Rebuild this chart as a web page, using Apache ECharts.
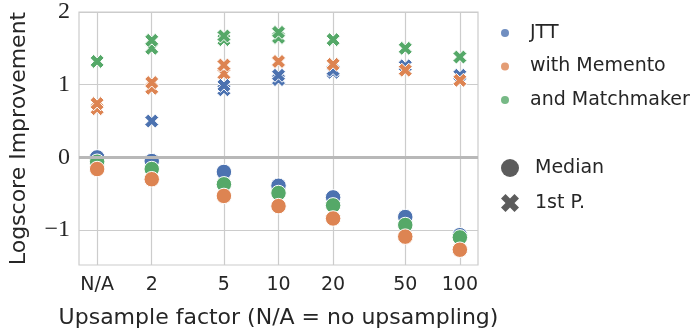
<!DOCTYPE html>
<html><head><meta charset="utf-8">
<script src="https://cdn.jsdelivr.net/npm/echarts@6/dist/echarts.min.js"></script>
<style>html,body{margin:0;padding:0;background:#fff}#c{width:698px;height:334px}</style>
</head><body><div id="c"></div>
<script>
// x positions (upsample factor; 1 = no upsampling, shown as N/A)
const factors = [1, 2, 5, 10, 20, 50, 100];
const factorLabels = ['N/A', '2', '5', '10', '20', '50', '100'];
const yTicks = [-1, 0, 1, 2];

// Median logscore improvement
const jttMedian      = [0.00, -0.05, -0.20, -0.39, -0.55, -0.82, -1.07];
const matchMedian    = [-0.06, -0.16, -0.37, -0.49, -0.66, -0.93, -1.10];
const mementoMedian  = [-0.16, -0.30, -0.53, -0.67, -0.84, -1.09, -1.27];

// 1st percentile logscore improvement
const jttP1      = [0.74, 0.50, 0.99, 1.13, 1.20, 1.26, 1.13];
const matchP1    = [1.32, 1.61, 1.67, 1.72, 1.62, 1.50, 1.38];
const mementoP1  = [0.74, 1.03, 1.27, 1.32, 1.28, 1.20, 1.06];

// partially hidden (overlapped) 1st percentile markers
const jttP1Hidden     = [null, null, 0.93, 1.07, 1.17, null, null];
const matchP1Hidden   = [null, 1.50, 1.62, 1.65, null, null, null];
const mementoP1Hidden = [0.67, 0.95, 1.15, null, null, null, null];

const BLUE = '#4C72B0', ORANGE = '#DD8452', GREEN = '#55A868', DARK = '#333333', TXT = '#262626';
const XPATH = 'path://M2.5,0L5,2.5L7.5,0L10,2.5L7.5,5L10,7.5L7.5,10L5,7.5L2.5,10L0,7.5L2.5,5L0,2.5Z';
const SANS = 'DejaVu Sans';

function pts(vals) {
  const out = [];
  vals.forEach((v, i) => { if (v !== null) out.push([factors[i], v]); });
  return out;
}
function labelFor(v) {
  for (let i = 0; i < factors.length; i++) {
    if (Math.abs(Math.log10(v) - Math.log10(factors[i])) < 0.02) return factorLabels[i];
  }
  return '';
}
function sc(name, vals, color, symbol, size) {
  return {
    name: name, type: 'scatter', data: pts(vals), symbol: symbol, symbolSize: size,
    itemStyle: { color: color, borderColor: '#ffffff', borderWidth: 1, opacity: 1 },
    emphasis: { disabled: true }, silent: true
  };
}
const chart = echarts.init(document.getElementById('c'), null, { renderer: 'canvas' });
const option = {
  animation: false,
  backgroundColor: '#ffffff',
  grid: { left: 76, right: 220, top: 12, bottom: 67, show: true, borderColor: '#cccccc', borderWidth: 1.2 },
  xAxis: {
    type: 'log', logBase: 10, min: 0.7943, max: 125.89,
    axisLine: { show: false },
    axisTick: { show: false, customValues: factors },
    minorTick: { show: false }, minorSplitLine: { show: false },
    axisLabel: { customValues: factors, formatter: labelFor, fontFamily: SANS, fontSize: 19, color: TXT, margin: 11 },
    splitLine: { show: true, lineStyle: { color: '#cccccc', width: 1.2 } },
    name: 'Upsample factor (N/A = no upsampling)', nameLocation: 'middle', nameGap: 42,
    nameTextStyle: { fontFamily: SANS, fontSize: 22, color: TXT }
  },
  yAxis: {
    type: 'value', min: -1.48, max: 2,
    axisLine: { show: false },
    axisTick: { show: false, customValues: yTicks },
    axisLabel: { customValues: yTicks, formatter: v => (v < 0 ? '\u2212' + Math.abs(v) : String(v)),
      fontFamily: 'Liberation Serif', fontSize: 24, color: TXT, margin: 9 },
    splitLine: { show: true, lineStyle: { color: '#cccccc', width: 1.2 } },
    name: 'Logscore Improvement', nameLocation: 'middle', nameGap: 49,
    nameTextStyle: { fontFamily: SANS, fontSize: 22, color: TXT }
  },
  legend: [
    { left: 496, top: 18, orient: 'vertical', itemWidth: 40, itemHeight: 8, itemGap: 13.5,
      selectedMode: false,
      textStyle: { fontFamily: SANS, fontSize: 19, color: TXT, lineHeight: 20 },
      data: [{ name: 'JTT', icon: 'circle' }, { name: 'with Memento', icon: 'circle' }, { name: 'and Matchmaker', icon: 'circle' }] },
    { left: 496, top: 153, orient: 'vertical', itemWidth: 40, itemHeight: 18, itemGap: 15,
      selectedMode: false,
      textStyle: { fontFamily: SANS, fontSize: 19, color: TXT, lineHeight: 20 },
      data: [{ name: 'Median', icon: 'circle' }, { name: '1st P.', icon: XPATH }] }
  ],
  series: [
    { name: 'zero', type: 'scatter', data: [], silent: true,
      markLine: { silent: true, symbol: 'none', label: { show: false },
        lineStyle: { color: '#b8b8b8', width: 3, type: 'solid' }, data: [{ yAxis: 0 }] } },
    { name: 'JTT', type: 'scatter', data: [], itemStyle: { color: BLUE } },
    { name: 'with Memento', type: 'scatter', data: [], itemStyle: { color: ORANGE } },
    { name: 'and Matchmaker', type: 'scatter', data: [], itemStyle: { color: GREEN } },
    { name: 'Median', type: 'scatter', data: [], itemStyle: { color: DARK } },
    { name: '1st P.', type: 'scatter', data: [], itemStyle: { color: DARK } },
    sc('jtt p1 hidden', jttP1Hidden, BLUE, XPATH, 14),
    sc('match p1 hidden', matchP1Hidden, GREEN, XPATH, 14),
    sc('memento p1 hidden', mementoP1Hidden, ORANGE, XPATH, 14),
    sc('jtt median', jttMedian, BLUE, 'circle', 15.5),
    sc('match median', matchMedian, GREEN, 'circle', 15.5),
    sc('memento median', mementoMedian, ORANGE, 'circle', 15.5),
    sc('jtt p1', jttP1, BLUE, XPATH, 14),
    sc('match p1', matchP1, GREEN, XPATH, 14),
    sc('memento p1', mementoP1, ORANGE, XPATH, 14)
  ]
};
chart.setOption(option);
</script>
</body></html>
